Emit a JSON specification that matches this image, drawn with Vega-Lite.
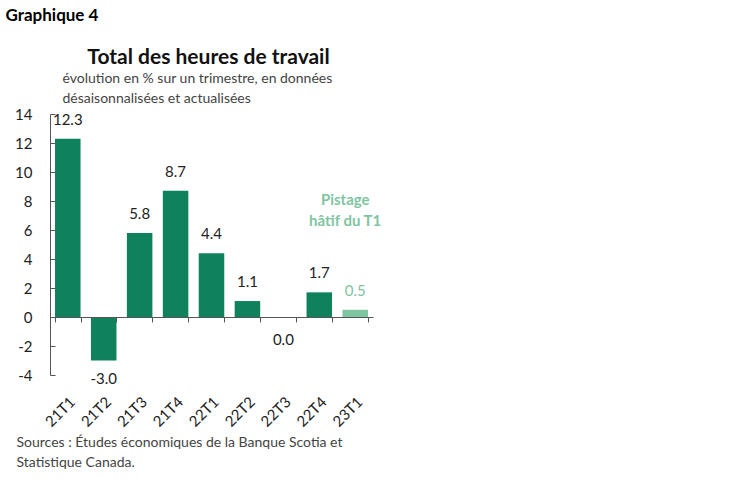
{
  "$schema": "https://vega.github.io/schema/vega-lite/v6.json",
  "width": 323,
  "height": 261,
  "autosize": {"type": "none"},
  "padding": {"left": 50, "top": 114, "right": 377, "bottom": 107},
  "background": "white",
  "config": {
    "view": {"stroke": null},
    "font": "Lato",
    "locale": {"number": {"decimal": ".", "thousands": ",", "grouping": [3], "currency": ["$", ""], "minus": "-"}}
  },
  "title": {
    "text": "Total des heures de travail",
    "anchor": "middle",
    "frame": "group",
    "dx": -3,
    "offset": 0,
    "dy": 62,
    "font": "Lato",
    "fontSize": 21,
    "fontWeight": "bold",
    "color": "#111"
  },
  "data": {
    "values": [
      {"q": "21T1", "v": 12.3, "type": "réel"},
      {"q": "21T2", "v": -3.0, "type": "réel"},
      {"q": "21T3", "v": 5.8, "type": "réel"},
      {"q": "21T4", "v": 8.7, "type": "réel"},
      {"q": "22T1", "v": 4.4, "type": "réel"},
      {"q": "22T2", "v": 1.1, "type": "réel"},
      {"q": "22T3", "v": 0.0, "type": "réel"},
      {"q": "22T4", "v": 1.7, "type": "réel"},
      {"q": "23T1", "v": 0.5, "type": "pistage"}
    ]
  },
  "resolve": {"axis": {"x": "independent", "y": "independent"}},
  "layer": [
    {
      "mark": {"type": "bar"},
      "encoding": {
        "x": {
          "field": "q", "type": "nominal", "sort": null,
          "scale": {"paddingInner": 0.29, "paddingOuter": 0.14},
          "axis": {
            "orient": "bottom", "offset": -58, "labels": false,
            "domain": true, "domainColor": "#555", "domainWidth": 1,
            "ticks": true, "tickBand": "extent", "tickColor": "#555", "tickSize": 5,
            "zindex": 1,
            "title": "Graphique 4",
            "titleX": -45, "titleY": -302, "titleAngle": 0,
            "titleAlign": "left", "titleBaseline": "middle",
            "titleFont": "Lato", "titleFontSize": 17, "titleFontWeight": "bold", "titleColor": "#000"
          }
        },
        "y": {
          "field": "v", "type": "quantitative",
          "scale": {"domain": [-4, 14], "nice": false, "zero": false},
          "axis": {
            "values": [-4, -2, 0, 2, 4, 6, 8, 10, 12, 14],
            "grid": false, "domain": true, "domainColor": "#555",
            "ticks": true, "tickColor": "#555", "tickSize": -5,
            "labelPadding": 23, "labelFont": "Lato", "labelFontSize": 15, "labelColor": "#222",
            "title": ["évolution en % sur un trimestre, en données", "désaisonnalisées et actualisées"],
            "titleX": 12, "titleY": -43, "titleAngle": 0,
            "titleAlign": "left", "titleBaseline": "top", "titleLineHeight": 20,
            "titleFont": "Lato", "titleFontSize": 14, "titleFontWeight": "normal", "titleColor": "#444"
          }
        },
        "color": {
          "field": "type", "type": "nominal",
          "scale": {"domain": ["réel", "pistage"], "range": ["#0f815c", "#80c5a1"]},
          "legend": null
        }
      }
    },
    {
      "mark": {"type": "text", "opacity": 0},
      "encoding": {
        "x": {
          "field": "q", "type": "nominal", "sort": null,
          "axis": {
            "orient": "bottom", "domain": false, "ticks": false,
            "labelAngle": -45, "labelPadding": 19,
            "labelFont": "Lato", "labelFontSize": 15, "labelColor": "#222",
            "title": ["Sources : Études économiques de la Banque Scotia et", "Statistique Canada."],
            "titleX": -34, "titleY": 60, "titleAngle": 0,
            "titleAlign": "left", "titleBaseline": "top", "titleLineHeight": 20,
            "titleFont": "Lato", "titleFontSize": 14, "titleFontWeight": "normal", "titleColor": "#444"
          }
        },
        "y": {"field": "v", "type": "quantitative", "axis": null},
        "text": {"field": "q"}
      }
    },
    {
      "transform": [{"filter": "datum.v > 0"}],
      "mark": {"type": "text", "baseline": "middle", "dy": -19, "fontSize": 15, "font": "Lato"},
      "encoding": {
        "x": {"field": "q", "type": "nominal", "sort": null, "axis": null},
        "y": {"field": "v", "type": "quantitative", "axis": null},
        "text": {"field": "v", "type": "quantitative", "format": ".1f"},
        "color": {"condition": {"test": "datum.type === 'pistage'", "value": "#80c5a1"}, "value": "#222222"}
      }
    },
    {
      "transform": [{"filter": "datum.v < 0"}],
      "mark": {"type": "text", "baseline": "middle", "dy": 18, "fontSize": 15, "font": "Lato", "color": "#222"},
      "encoding": {
        "x": {"field": "q", "type": "nominal", "sort": null, "axis": null},
        "y": {"field": "v", "type": "quantitative", "axis": null},
        "text": {"field": "v", "type": "quantitative", "format": ".1f"}
      }
    },
    {
      "transform": [{"filter": "datum.v == 0"}],
      "mark": {"type": "text", "baseline": "middle", "dy": 23, "fontSize": 15, "font": "Lato", "color": "#222"},
      "encoding": {
        "x": {"field": "q", "type": "nominal", "sort": null, "axis": null},
        "y": {"field": "v", "type": "quantitative", "axis": null},
        "text": {"field": "v", "type": "quantitative", "format": ".1f"}
      }
    },
    {
      "data": {"values": [{"q": "23T1", "note": "Pistage\nhâtif du T1"}]},
      "mark": {"type": "text", "baseline": "middle", "align": "center", "dx": -10, "lineBreak": "\n", "lineHeight": 21, "fontSize": 15, "fontWeight": "bold", "font": "Lato", "color": "#80c5a1"},
      "encoding": {
        "x": {"field": "q", "type": "nominal", "sort": null, "axis": null},
        "y": {"datum": 8.05, "type": "quantitative", "axis": null},
        "text": {"field": "note"}
      }
    }
  ]
}
